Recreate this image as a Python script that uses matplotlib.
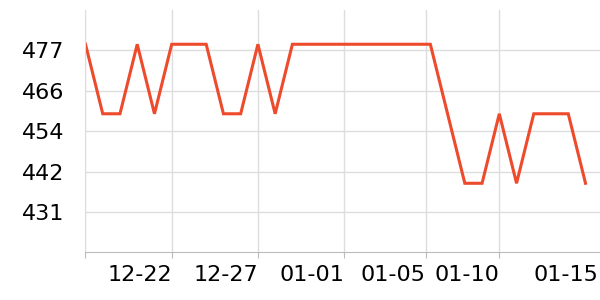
import numpy as np
import matplotlib
matplotlib.use("Agg")
import matplotlib.pyplot as plt

# daily values, one per category slot
values = [479, 459, 459, 479, 459, 479, 479, 479, 459, 459,
          479, 459, 479, 479, 479, 479, 479, 479, 479, 479,
          479, 459, 439, 439, 459, 439, 459, 459, 459, 439]

x_tick_labels = ["", "12-22", "12-27", "01-01", "01-05", "01-10", "01-15"]
x_tick_pos = [0, 5, 10, 15, 19.73, 24, 29.75]
y_tick_labels = ["431", "442", "454", "466", "477"]

LINE_COLOR = "#ee4a2c"
GRID_COLOR = "#dddddd"


def main():
    fig = plt.figure(figsize=(6, 3), dpi=100)
    ax = fig.add_axes([85.5 / 600, 47.7 / 300, 514.5 / 600, 242.3 / 300])

    x = np.arange(len(values))
    ax.plot(x, values, color=LINE_COLOR, linewidth=2.2, solid_joinstyle="miter")

    ymin, ymax = 419.14, 488.86
    ax.set_ylim(ymin, ymax)
    ax.set_xlim(0, 29.84)

    y_ticks = ymin + 11.62 * np.arange(1, len(y_tick_labels) + 1)
    ax.set_yticks(y_ticks)
    ax.set_yticklabels(y_tick_labels, fontsize=16)
    ax.set_xticks(x_tick_pos)
    ax.set_xticklabels(x_tick_labels, fontsize=16, ha="right")

    ax.grid(True, color=GRID_COLOR, linewidth=1)
    ax.set_axisbelow(True)
    for side in ["top", "right"]:
        ax.spines[side].set_visible(False)
    ax.spines["left"].set_color(GRID_COLOR)
    ax.spines["bottom"].set_color("#bbbbbb")

    ax.tick_params(axis="y", length=0, pad=15)
    ax.tick_params(axis="x", length=4, color="#bbbbbb", pad=5)

    # the last label sits at the right edge without a grid line or tick mark
    ax.get_xgridlines()[-1].set_visible(False)
    ax.xaxis.get_major_ticks()[-1].tick1line.set_visible(False)

    fig.savefig("out.png", dpi=100)


if __name__ == "__main__":
    main()
